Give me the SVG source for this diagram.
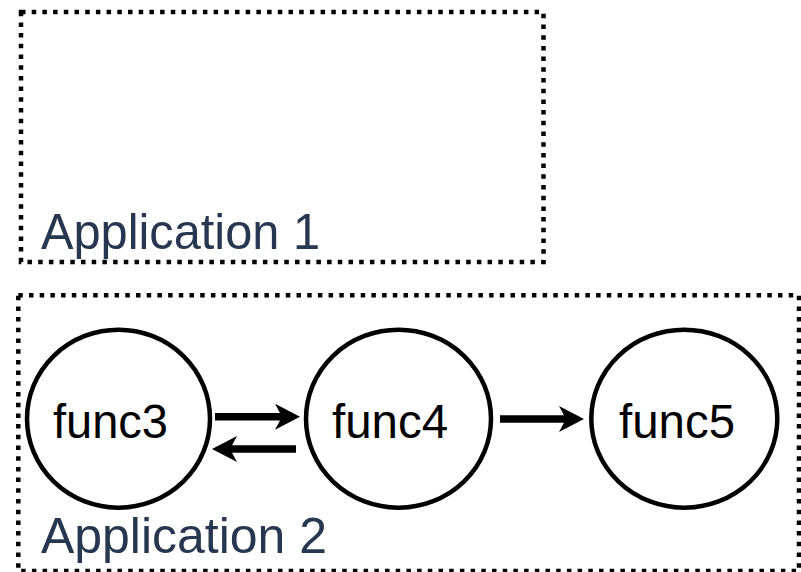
<svg xmlns="http://www.w3.org/2000/svg" width="801" height="572" viewBox="0 0 801 572">
  <style>
    .app { fill: none; stroke: #000; stroke-width: 4.5; stroke-dasharray: 4.5 6.2; }
    .app-label { font-family: "Liberation Sans", Arial, sans-serif; font-size: 49.5px; fill: #27374f; }
    .func { fill: #fff; stroke: #000; stroke-width: 4.5; }
    .func-label { font-family: "Liberation Sans", Arial, sans-serif; font-size: 48px; fill: #000; }
    .edge { stroke: #000; stroke-width: 7.5; fill: none; marker-end: url(#head); }
  </style>
  <defs>
    <!-- swept arrowhead; the line stops at the notch (refX) -->
    <marker id="head" markerUnits="userSpaceOnUse" markerWidth="25" markerHeight="26" viewBox="0 0 25 26" refX="7" refY="13" orient="auto">
      <path d="M0,0 L25,13 L0,26 L7,13 Z" fill="#000"/>
    </marker>
  </defs>

  <rect x="0" y="0" width="801" height="572" fill="#fff"/>

  <g id="application1">
    <rect class="app" x="21" y="12" width="522.5" height="250"/>
    <text class="app-label" x="41" y="248.5" textLength="279" lengthAdjust="spacingAndGlyphs">Application 1</text>
  </g>

  <g id="application2">
    <rect class="app" x="18.3" y="295.3" width="780.7" height="275.7"/>
    <text class="app-label" x="41" y="553" textLength="286" lengthAdjust="spacingAndGlyphs">Application 2</text>
  </g>

  <g id="connectors">
    <line class="edge" x1="215" y1="416.7" x2="282" y2="416.7"/>
    <line class="edge" x1="296" y1="449" x2="230" y2="449"/>
    <line class="edge" x1="500" y1="419" x2="566" y2="419"/>
  </g>

  <g id="func3">
    <ellipse class="func" cx="118.5" cy="418.7" rx="91.5" ry="89"/>
    <text class="func-label" x="53" y="438" textLength="115" lengthAdjust="spacingAndGlyphs">func3</text>
  </g>

  <g id="func4">
    <ellipse class="func" cx="398.5" cy="418.7" rx="92.5" ry="89"/>
    <text class="func-label" x="332" y="437.5" textLength="116" lengthAdjust="spacingAndGlyphs">func4</text>
  </g>

  <g id="func5">
    <ellipse class="func" cx="684.3" cy="418.7" rx="93" ry="89"/>
    <text class="func-label" x="619" y="438" textLength="116" lengthAdjust="spacingAndGlyphs">func5</text>
  </g>
</svg>
